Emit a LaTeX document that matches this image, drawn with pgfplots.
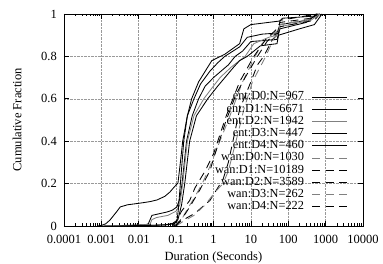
\documentclass[border=0pt]{standalone}
\usepackage{pgfplots}
\pgfplotsset{compat=1.18}
\usepackage{fontspec}
\setmainfont{Liberation Serif}
\definecolor{lgray}{gray}{0.5}
\begin{document}
\begin{tikzpicture}
\begin{axis}[
  name=ax,
  scale only axis, width=299pt, height=212pt,
  xmode=log, xmin=1e-4, xmax=1e4, ymin=0, ymax=1,
  font=\fontsize{12.5}{14}\selectfont,
  xtick={1e-4,1e-3,1e-2,1e-1,1,10,100,1000,10000},
  xticklabels={0.0001,0.001,0.01,0.1,1,10,100,1000,10000},
  ytick={0,0.2,0.4,0.6,0.8,1},
  yticklabels={0,0.2,0.4,0.6,0.8,1},
  /pgf/number format/assume math mode=true,
  grid=major, grid style={densely dotted, gray!80, line width=0.5pt},
  tick align=inside, major tick length=5pt, minor tick length=2.5pt,
  every tick/.style={black, line width=0.6pt},
  axis line style={line width=0.8pt},
  yticklabel style={inner sep=0pt, xshift=-7pt},
  xticklabel style={inner sep=0pt, yshift=-9pt},
  xlabel={Duration (Seconds)}, ylabel={Cumulative Fraction},
  every axis x label/.style={at={(axis description cs:0.5,0)}, yshift=-31pt, anchor=center},
  every axis y label/.style={at={(axis description cs:0,0.5)}, xshift=-47pt, rotate=90, anchor=center},
  legend plot pos=right,
  legend cell align=right,
  legend style={draw=none, fill=none, inner sep=0pt, row sep=0pt, column sep=8pt,
    font=\fontsize{12.3}{12}\selectfont,
    nodes={inner sep=0pt, text height=9pt, text depth=3.2pt},
    at={(axis description cs:0.950,0.061)}, anchor=south east},
  legend image code/.code={\draw[#1] (0pt,0pt) -- (35pt,0pt);},
  every axis plot/.append style={line width=0.85pt},
]
% ent curves (solid)
\addplot[black] coordinates {(0.0008,0) (0.001,0.003) (0.0013,0.01) (0.0017,0.028) (0.0025,0.065) (0.0032,0.09) (0.005,0.1) (0.011,0.108) (0.02,0.115) (0.031,0.123) (0.05,0.14) (0.068,0.16) (0.09,0.185) (0.112,0.203) (0.13,0.3) (0.15,0.4) (0.2,0.52) (0.3,0.6) (0.45,0.67) (0.8,0.73) (1.3,0.77) (2,0.8) (5,0.845) (8,0.89) (20,0.905) (50,0.91) (60,0.95) (300,0.97) (700,1)};
\addlegendentry{ent:D0:N=967}
\addplot[black] coordinates {(0.001,0) (0.005,0.003) (0.015,0.006) (0.018,0.01) (0.0225,0.05) (0.04,0.06) (0.057,0.066) (0.08,0.075) (0.105,0.09) (0.126,0.13) (0.144,0.2) (0.19,0.4) (0.27,0.52) (0.4,0.6) (0.6,0.66) (1,0.7) (2.5,0.76) (3.8,0.8) (6,0.825) (10,0.87) (50,0.88) (60,0.93) (300,0.96) (600,1)};
\addlegendentry{ent:D1:N=6671}
\addplot[lgray] coordinates {(0.002,0) (0.01,0.004) (0.02,0.008) (0.0225,0.03) (0.03,0.04) (0.06,0.05) (0.1,0.07) (0.126,0.1) (0.15,0.2) (0.2,0.4) (0.3,0.52) (0.55,0.6) (0.9,0.65) (1.5,0.7) (3,0.75) (7,0.8) (12,0.86) (30,0.89) (50,0.9) (60,0.94) (400,0.97) (700,1)};
\addlegendentry{ent:D2:N=1942}
\addplot[black] coordinates {(0.003,0) (0.03,0.004) (0.06,0.006) (0.08,0.01) (0.105,0.02) (0.115,0.08) (0.13,0.2) (0.16,0.4) (0.2,0.52) (0.26,0.6) (0.4,0.68) (0.9,0.78) (2,0.81) (5,0.86) (6.5,0.93) (10,0.95) (60,0.967) (70,0.98) (500,0.99) (650,1)};
\addlegendentry{ent:D3:N=447}
\addplot[black] coordinates {(0.005,0) (0.05,0.005) (0.08,0.012) (0.112,0.03) (0.14,0.1) (0.17,0.2) (0.23,0.4) (0.35,0.52) (0.7,0.6) (1.3,0.66) (3.5,0.75) (5,0.78) (8,0.8) (12,0.825) (18,0.85) (50,0.86) (55,0.9) (200,0.93) (500,0.95) (800,1)};
\addlegendentry{ent:D4:N=460}
% wan curves (dashed)
\addplot[lgray, dash pattern=on 8pt off 5.5pt] coordinates {(0.08,0) (0.1,0.01) (0.15,0.04) (0.2,0.08) (0.3,0.13) (0.5,0.2) (0.8,0.28) (1.2,0.36) (2.5,0.5) (6,0.68) (13,0.8) (20,0.86) (35,0.9) (50,0.92) (60,0.95) (300,0.97) (600,1)};
\addlegendentry{wan:D0:N=1030}
\addplot[black, dash pattern=on 8pt off 5.5pt] coordinates {(0.08,0) (0.1,0.02) (0.14,0.07) (0.23,0.12) (0.32,0.18) (0.6,0.26) (1,0.34) (2.2,0.52) (5,0.68) (12,0.8) (25,0.88) (50,0.93) (60,0.96) (400,0.98) (600,1)};
\addlegendentry{wan:D1:N=10189}
\addplot[black, dash pattern=on 8pt off 5.5pt] coordinates {(0.09,0) (0.13,0.02) (0.2,0.04) (0.32,0.06) (0.5,0.09) (0.8,0.12) (1.2,0.17) (1.8,0.22) (2.5,0.3) (3.5,0.42) (5,0.55) (10,0.68) (15,0.76) (22,0.8) (38,0.88) (50,0.9) (60,0.94) (500,0.97) (700,1)};
\addlegendentry{wan:D2:N=3589}
\addplot[lgray, dash pattern=on 8pt off 5.5pt] coordinates {(0.1,0) (0.15,0.02) (0.3,0.05) (0.6,0.1) (1.1,0.16) (1.8,0.2) (2.5,0.26) (4,0.4) (6.5,0.55) (11,0.68) (25,0.8) (40,0.88) (55,0.91) (60,0.95) (500,0.98) (700,1)};
\addlegendentry{wan:D3:N=262}
\addplot[black, dash pattern=on 8pt off 5.5pt] coordinates {(0.1,0) (0.12,0.02) (0.18,0.06) (0.25,0.1) (0.43,0.17) (0.8,0.26) (1.1,0.34) (2.2,0.5) (4,0.62) (7,0.7) (15,0.8) (27,0.87) (40,0.9) (55,0.91) (60,0.97) (600,1)};
\addlegendentry{wan:D4:N=222}
\end{axis}
\pgfresetboundingbox
\path[use as bounding box] ([shift={(-64pt,-38pt)}]ax.south west) rectangle ([shift={(20pt,14pt)}]ax.north east);
\end{tikzpicture}
\end{document}
